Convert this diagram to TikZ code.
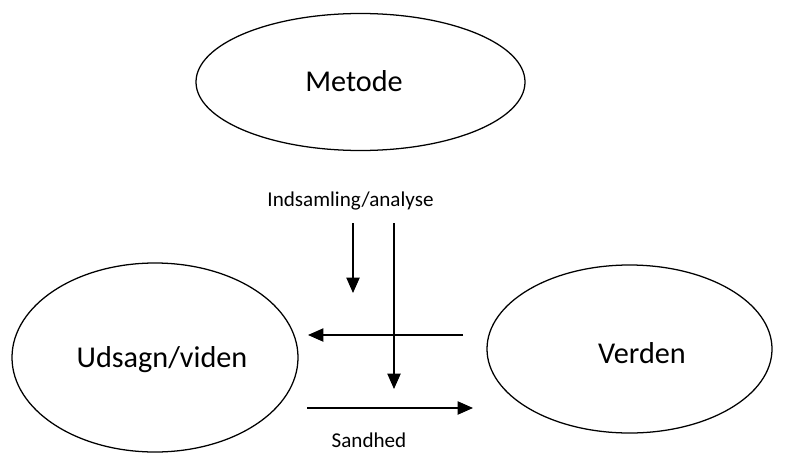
\documentclass[tikz,border=0pt]{standalone}
\usepackage{fontspec}
\setmainfont{Carlito}
\usetikzlibrary{shapes.geometric,arrows.meta}

\tikzset{
  felt/.style={draw, ellipse, line width=0.9pt, inner sep=0pt},
  stor/.style={font=\fontsize{21.5}{24}\selectfont},
  pil/.style={line width=0.9pt, -{Triangle[length=11pt,width=9.5pt]}},
  lille/.style={font=\fontsize{15}{17}\selectfont}
}

\begin{document}
\begin{tikzpicture}[x=0.025cm,y=-0.025cm]
\useasboundingbox (0,0) rectangle (786,453);

% ellipser
\node[felt, minimum width=329*0.025cm, minimum height=137*0.025cm] (metode) at (360.5,82) {};
\node[felt, minimum width=286*0.025cm, minimum height=189*0.025cm] (udsagn) at (155,357.5) {};
\node[felt, minimum width=285*0.025cm, minimum height=168*0.025cm] (verden) at (629.5,349) {};

% tekst
\node[stor] (metodetekst) at (354,81) {Metode};
\node[stor] (udsagntekst) at (162,360) {Udsagn/viden};
\node[stor] (verdentekst) at (642,353) {Verden};
\node[lille] (indsamling) at (350.5,201) {Indsamling/analyse};
\node[lille] (sandhed) at (369,440) {Sandhed};

\coordinate (A1) at (353,223);
\coordinate (A2) at (353,293);
\coordinate (B1) at (394,223);
\coordinate (B2) at (394,389);
\coordinate (C1) at (463,335);
\coordinate (C2) at (308,335);
\coordinate (D1) at (307,408);
\coordinate (D2) at (473,408);

\draw[pil] (A1) -- (A2);
\draw[pil] (B1) -- (B2);
\draw[pil] (C1) -- (C2);
\draw[pil] (D1) -- (D2);
\end{tikzpicture}
\end{document}
